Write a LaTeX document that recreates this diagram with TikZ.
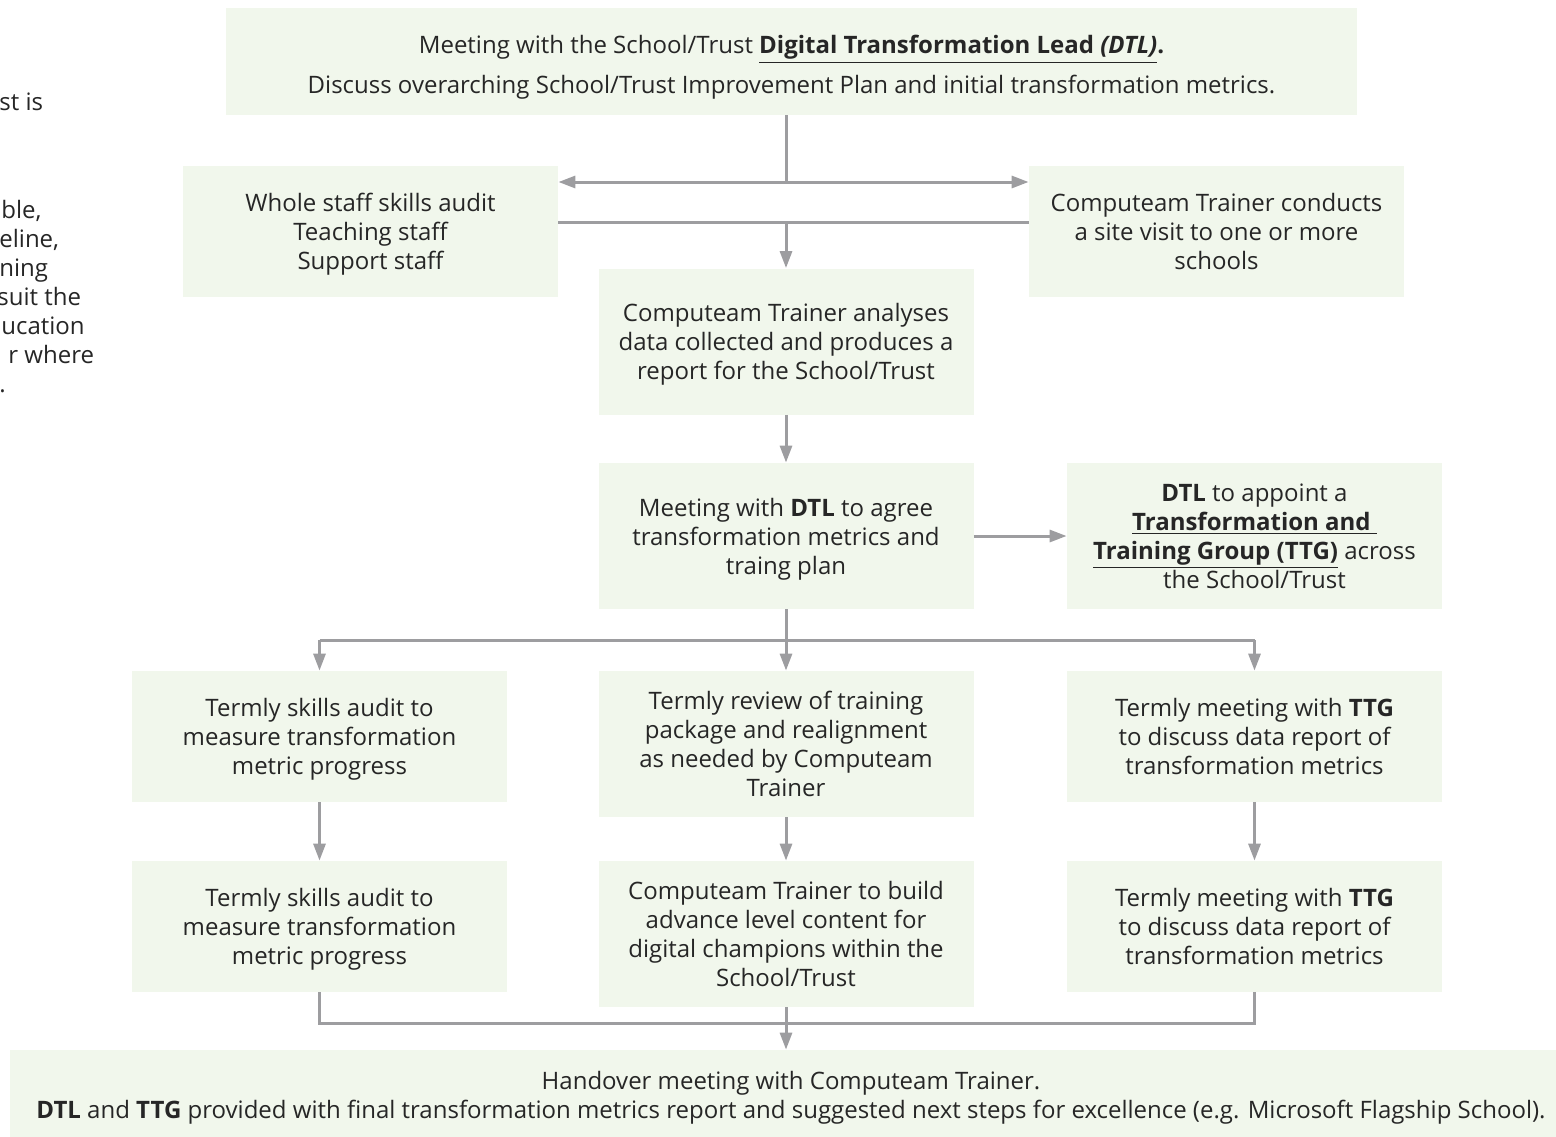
\documentclass[tikz,border=0pt]{standalone}
\usepackage{fontspec}
\setmainfont{Open Sans}
\usepackage{tikz}
\usetikzlibrary{arrows.meta,shapes,positioning,calc}
\definecolor{stepgreen}{HTML}{F1F7EC}
\definecolor{linegray}{HTML}{9D9DA0}
\definecolor{textdark}{HTML}{262626}

\begin{document}
\begin{tikzpicture}[
    x=0.5pt, y=-0.5pt,
    box/.style={rectangle, fill=stepgreen, minimum width=187.5pt, minimum height=65.5pt, align=center, font=\fontsize{12}{14.5}\selectfont, text=textdark, inner sep=0pt, text depth=0pt},
    tallbox/.style={box, minimum height=73pt},
    note/.style={anchor=north west, align=left, inner sep=0pt, text=textdark, font=\fontsize{12}{14.5}\selectfont},
    conn/.style={linegray, line width=1.5pt},
    arrow/.style={conn, -{Triangle[length=8.5pt, width=6pt]}}
]
    \useasboundingbox (0,0) rectangle (1556,1136);

    % cut-off text on the left
    \node[note] (notea) at (-1,92) {st is};
    \node[note] (noteb) at (-1,200)
        {\hspace*{1pt}ble,\\eline,\\ning\\\hspace*{-1pt}suit the\\\hspace*{1pt}ucation\\\hspace*{4.5pt}r where\\.};

    \node[box, minimum width=565.5pt, minimum height=53.5pt] (top) at (791.5,61.5)
        {\rule{0pt}{12.1pt}Meeting with the School/Trust \textbf{\underline{Digital Transformation Lead \textit{(DTL)}}.}\\[5.5pt]
         Discuss overarching School/Trust Improvement Plan and initial transformation metrics.};
    \node[box] (audit) at (370.5,231.5) {Whole staff skills audit\\Teaching staff\\Support staff};
    \node[box] (visit) at (1216.5,231.5) {Computeam Trainer conducts\\a site visit to one or more\\schools};
    \node[tallbox] (report) at (786,341.5) {Computeam Trainer analyses\\data collected and produces a\\report for the School/Trust};
    \node[tallbox] (agree) at (786,536) {Meeting with \textbf{DTL} to agree\\transformation metrics and\\traing plan};
    \node[tallbox] (appoint) at (1254.5,536)
        {\textbf{DTL} to appoint a\\\textbf{\underline{Transformation and\ }}\\\textbf{\underline{Training Group (TTG)}} across\\the School/Trust};

    \node[box] (skillsA) at (319.5,736.5) {Termly skills audit to\\measure transformation\\metric progress};
    \node[tallbox] (review) at (786,744) {Termly review of training\\package and realignment\\as needed by Computeam\\Trainer};
    \node[box] (ttgA) at (1254.5,736.5) {Termly meeting with \textbf{TTG}\\to discuss data report of\\transformation metrics};

    \node[box] (skillsB) at (319.5,926.5) {Termly skills audit to\\measure transformation\\metric progress};
    \node[tallbox] (content) at (786,934) {Computeam Trainer to build\\advance level content for\\digital champions within the\\School/Trust};
    \node[box] (ttgB) at (1254.5,926.5) {Termly meeting with \textbf{TTG}\\to discuss data report of\\transformation metrics};

    \node[box, minimum width=781pt, minimum height=45pt] (handover) at (791,1095)
        {Handover meeting with Computeam Trainer.\\
         \textbf{DTL} and \textbf{TTG} provided with final transformation metrics report and suggested next steps for excellence (e.g. Microsoft Flagship School).};

    % split below the first meeting
    \coordinate (splitA) at (786,182);
    \coordinate (splitB) at (786,222);
    \draw[conn] (report.north |- top.south) -- (splitA);
    \draw[arrow] (splitA) -- (splitA -| audit.east);
    \draw[arrow] (splitA) -- (splitA -| visit.west);
    \draw[conn] (splitB -| audit.east) -- (splitB -| visit.west);
    \draw[arrow] (splitB) -- (report.north);

    \draw[arrow] (report) -- (agree);
    \draw[arrow] (agree.east) -- (appoint.west);

    % fan out to the termly steps
    \coordinate (fan) at (786,640);
    \draw[conn] (agree.south) -- (fan);
    \draw[conn] (fan -| skillsA) -- (fan -| ttgA);
    \draw[arrow] (fan -| skillsA) -- (skillsA.north);
    \draw[arrow] (fan) -- (review.north);
    \draw[arrow] (fan -| ttgA) -- (ttgA.north);

    \draw[arrow] (skillsA) -- (skillsB);
    \draw[arrow] (review) -- (content);
    \draw[arrow] (ttgA) -- (ttgB);

    % gather into the handover
    \coordinate (gather) at (786,1023);
    \draw[conn] (skillsB.south) -- (gather -| skillsB) -- (gather -| ttgB) -- (ttgB.south);
    \draw[arrow] (content.south) -- (handover.north -| content);
\end{tikzpicture}
\end{document}
